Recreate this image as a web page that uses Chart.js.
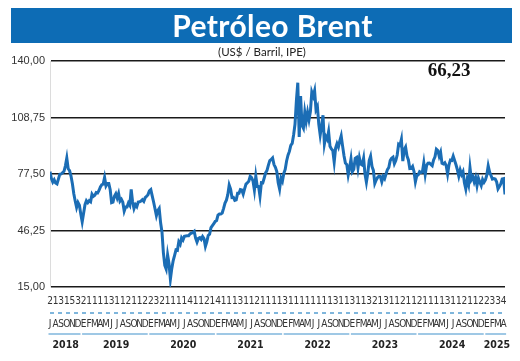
<!DOCTYPE html>
<html>
<head>
<meta charset="utf-8">
<script src="https://cdn.jsdelivr.net/npm/chart.js@4.4.1/dist/chart.umd.min.js"></script>
<style>
  html, body { margin: 0; padding: 0; background: #fff; }
  #wrap { position: relative; width: 520px; height: 361px; overflow: hidden; }
  #c { position: absolute; left: 0; top: 0; }
  #banner { position: absolute; left: 11px; top: 8px; width: 479px; height: 35px; padding-left: 22px;
            background: #0d6cb5; color: #fff; font: bold 30px Lato, "Open Sans", sans-serif;
            text-align: center; line-height: 35px; letter-spacing: 0.4px; }
  #sub { position: absolute; left: 0; width: 524px; top: 45px; text-align: center;
         font: 11.5px Lato, "Open Sans", sans-serif; color: #222; }
  #last { position: absolute; left: 420px; width: 58px; top: 59px; text-align: center;
          font: bold 19px "Liberation Serif", "DejaVu Serif", serif; color: #111; }
</style>
</head>
<body>
<div id="wrap">
  <canvas id="c" width="520" height="361"></canvas>
  <div id="banner">Petróleo Brent</div>
  <div id="sub">(US$ / Barril, IPE)</div>
  <div id="last">66,23</div>
</div>
<script>
// ---- Data: weekly Brent prices (US$/barrel), 4 readings per month, Jul 2018 - Apr 2025 ----
const brent2018 = [78.8, 75.0, 73.0, 74.3,  72.5, 72.0, 74.7, 77.3,  77.5, 78.2, 79.0, 82.0,
                   86.3, 80.4, 79.3, 76.4,  72.1, 66.6, 62.6, 59.0,  61.7, 60.2, 55.3, 51.0];
const brent2019 = [55.8, 60.5, 62.7, 61.6,  62.7, 62.1, 66.3, 65.1,  65.7, 67.2, 67.0, 68.4,
                   70.3, 71.6, 71.9, 75.6,  70.9, 72.2, 72.2, 68.8,  61.7, 62.0, 65.2, 66.6,
                   64.2, 66.7, 62.5, 63.5,  61.9, 57.0, 59.3, 59.3,  61.5, 60.2, 69.0, 62.0,
                   58.4, 60.5, 59.4, 62.0,  62.1, 62.5, 63.3, 62.4,  64.4, 65.2, 66.1, 68.2];
const brent2020 = [68.9, 65.4, 62.0, 58.3,  54.5, 57.3, 58.5, 50.5,  45.3, 33.9, 27.0, 24.9,
                   32.8, 28.1, 19.3, 25.3,  29.6, 32.5, 35.5, 35.3,  40.0, 38.7, 42.2, 41.0,
                   43.0, 43.2, 43.3, 43.3,  44.4, 44.8, 45.1, 45.8,  42.0, 39.8, 41.9, 42.3,
                   41.3, 42.9, 41.8, 37.5,  40.0, 43.5, 44.2, 47.8,  48.9, 50.0, 51.3, 51.8];
const brent2021 = [54.8, 55.4, 55.4, 55.9,  58.5, 61.4, 63.0, 66.1,  71.4, 69.2, 64.5, 64.6,
                   62.9, 63.2, 66.8, 66.8,  68.9, 68.7, 66.4, 69.3,  71.9, 72.7, 73.5, 76.2,
                   75.5, 73.6, 68.6, 76.3,  70.7, 70.6, 65.2, 72.7,  72.6, 75.3, 78.1, 79.5,
                   82.4, 84.9, 85.5, 86.4,  82.7, 81.2, 78.9, 72.7,  69.2, 75.2, 73.5, 77.8];
const brent2022 = [80.0, 84.7, 87.9, 90.0,  93.3, 94.4, 99.1, 105.0, 118.1, 128.0, 98.0, 120.6,
                   104.4, 102.8, 111.7, 106.6, 111.6, 107.5, 112.0, 122.8, 120.6, 123.6, 113.1, 114.8,
                   105.0, 99.1, 104.2, 110.0, 94.1, 98.2, 96.7, 100.9,  92.8, 91.4, 90.5, 84.1,
                   91.8, 94.3, 92.4, 95.8,  98.6, 92.9, 87.6, 83.6,  82.7, 77.0, 81.0, 85.9];
const brent2023 = [78.8, 80.1, 86.2, 86.7,  80.9, 86.4, 83.0, 82.5,  86.2, 77.5, 73.0, 78.0,
                   84.9, 87.3, 81.7, 79.5,  72.3, 74.2, 75.6, 76.3,  76.1, 73.2, 76.1, 74.9,
                   77.5, 79.9, 81.1, 84.9,  86.2, 86.8, 83.2, 84.9,  88.0, 93.9, 93.3, 96.6,
                   84.6, 90.9, 92.4, 87.5,  85.3, 80.5, 80.6, 81.7,  78.9, 73.2, 76.6, 77.0];
const brent2024 = [78.8, 78.3, 78.6, 83.6,  77.3, 82.2, 83.5, 83.6,  82.8, 82.1, 85.3, 87.0,
                   91.2, 90.5, 87.3, 89.5,  83.4, 83.0, 83.7, 82.1,  77.5, 82.6, 85.2, 85.0,
                   87.4, 85.0, 82.6, 79.8,  76.3, 79.7, 77.2, 78.8,  72.7, 69.2, 74.5, 71.6,
                   81.0, 74.5, 76.0, 73.1,  75.5, 71.0, 75.2, 72.9,  71.1, 74.5, 72.9, 74.2];
const brent2025 = [76.9, 82.0, 78.5, 76.7,  74.7, 75.0, 74.7, 73.2,  69.3, 70.6, 72.0, 74.7,
                   74.9, 66.23];
const readingsPerMonth = 4;

// ---- Axis labels ----
const monthInitials = ['E','F','M','A','M','J','J','A','S','O','N','D'];
const firstMonth = 6; // July 2018
const firstDays = [2,1,3,1,5,3,
                   2,1,1,1,1,3,1,1,2,1,1,2,
                   2,3,2,1,1,1,1,4,1,1,2,1,
                   4,1,1,1,3,1,1,2,1,1,1,1,
                   3,1,1,1,1,1,1,1,1,3,1,1,
                   3,1,1,3,2,1,3,1,1,2,1,1,
                   2,1,1,1,1,3,1,1,2,1,1,2,
                   2,3,3,4];
const yearLabels = ['2018','2019','2020','2021','2022','2023','2024','2025'];
const monthsPerYear = [6,12,12,12,12,12,12,4];
const yTicks = [15, 46.25, 77.5, 108.75, 140];
const lastValueLabel = '66,23';

// ---- Build ----
const prices = [].concat(brent2018, brent2019, brent2020, brent2021, brent2022, brent2023, brent2024, brent2025);
const points = prices.map((v, i) => ({ x: i / readingsPerMonth, y: v }));
const monthLabels = firstDays.map((_, i) => monthInitials[(firstMonth + i) % 12]);
const yearCenters = [];
(function(){ let s = 0; monthsPerYear.forEach(n => { yearCenters.push(s + (n - 1) / 2 + 0.3); s += n; }); })();
const xMax = (prices.length - 1) / readingsPerMonth;

const narrow = "'Liberation Sans Narrow', 'DejaVu Sans Condensed', 'Roboto Condensed', sans-serif";

const decor = {
  id: 'decor',
  afterDraw(chart) {
    const ctx = chart.ctx;
    const xs = chart.scales.x;
    const area = chart.chartArea;
    ctx.save();
    ctx.strokeStyle = '#7fb6dc';
    ctx.lineWidth = 2;
    ctx.setLineDash([4, 4]);
    const yd = area.bottom + 26;
    ctx.beginPath(); ctx.moveTo(area.left, yd); ctx.lineTo(area.right, yd); ctx.stroke();
    ctx.setLineDash([]);
    ctx.lineWidth = 1.5;
    const yu = area.bottom + 47;
    let s = 0;
    for (let k = 0; k < monthsPerYear.length; k++) {
      const n = monthsPerYear[k];
      const x0 = xs.getPixelForValue(s) - 1.5;
      const x1 = xs.getPixelForValue(s + n - 1) + 2.5;
      ctx.beginPath(); ctx.moveTo(x0, yu); ctx.lineTo(x1, yu); ctx.stroke();
      s += n;
    }
    ctx.restore();
  }
};

new Chart(document.getElementById('c'), {
  type: 'line',
  data: {
    datasets: [{
      data: points,
      borderColor: '#1b6db5',
      borderWidth: 3,
      pointRadius: 0,
      tension: 0,
      fill: false
    }]
  },
  options: {
    responsive: false,
    animation: false,
    devicePixelRatio: 1,
    layout: { padding: { top: 61, right: 15, left: 0, bottom: 0 } },
    plugins: { legend: { display: false }, tooltip: { enabled: false } },
    scales: {
      x: {
        type: 'linear', min: 0, max: xMax, position: 'bottom', weight: 0,
        grid: { display: false, drawTicks: false },
        border: { display: false },
        afterBuildTicks: axis => { axis.ticks = monthLabels.map((_, i) => ({ value: i })); },
        afterFit: s => { s.height = 44; },
        ticks: {
          autoSkip: false, maxRotation: 0, minRotation: 0, padding: 2.5,
          color: '#333',
          font: { family: narrow, size: 10, lineHeight: '23px' },
          callback: (v) => [String(firstDays[v]), monthLabels[v]]
        }
      },
      x2: {
        type: 'linear', min: 0, max: xMax, position: 'bottom', weight: 1,
        grid: { display: false, drawTicks: false },
        border: { display: false },
        afterBuildTicks: axis => { axis.ticks = yearCenters.map(v => ({ value: v })); },
        afterFit: s => { s.height = 30; },
        ticks: {
          autoSkip: false, maxRotation: 0, minRotation: 0, padding: 8,
          color: '#222',
          font: { family: narrow, size: 10.5, weight: 'bold', lineHeight: 1.2 },
          callback: (v, i) => yearLabels[i]
        }
      },
      y: {
        type: 'linear', min: 15, max: 140,
        afterBuildTicks: axis => { axis.ticks = yTicks.map(v => ({ value: v })); },
        afterFit: s => { s.width = 50; },
        grid: { color: '#1a1a1a', lineWidth: 1.4, drawTicks: false },
        border: { display: true, color: '#dcdcdc', width: 1 },
        ticks: {
          padding: 5, color: '#333',
          font: { family: "'Liberation Sans', Arial, sans-serif", size: 11 },
          callback: v => v.toFixed(2).replace('.', ',')
        }
      }
    }
  },
  plugins: [decor]
});
document.getElementById('last').textContent = lastValueLabel;
</script>
</body>
</html>
